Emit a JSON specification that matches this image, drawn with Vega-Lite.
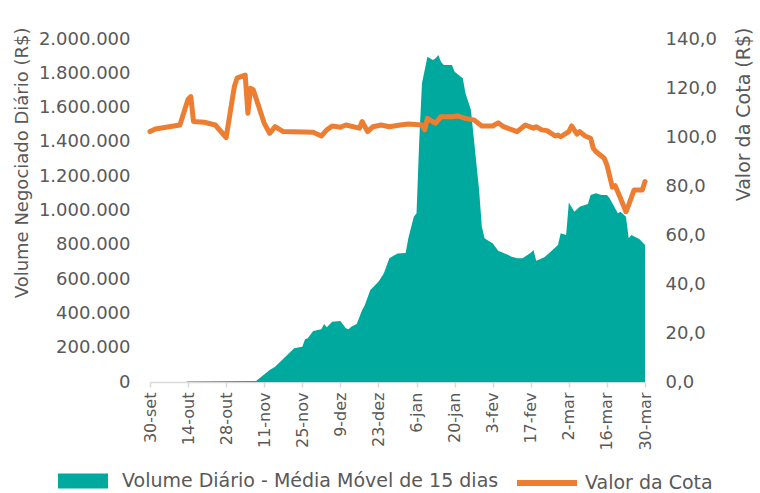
{
  "$schema": "https://vega.github.io/schema/vega-lite/v6.json",
  "autosize": {"type": "none"},
  "width": 495,
  "height": 343,
  "padding": {"left": 150, "top": 39, "right": 115, "bottom": 111},
  "background": "white",
  "datasets": {
    "volume": [
      {"data": "2019-09-30", "volume": 0},
      {"data": "2019-10-13", "volume": 0},
      {"data": "2019-10-14", "volume": 3000},
      {"data": "2019-11-08", "volume": 6000},
      {"data": "2019-11-13", "volume": 70000},
      {"data": "2019-11-15", "volume": 89000},
      {"data": "2019-11-22", "volume": 197000},
      {"data": "2019-11-25", "volume": 206000},
      {"data": "2019-11-26", "volume": 249000},
      {"data": "2019-11-27", "volume": 255000},
      {"data": "2019-11-29", "volume": 297000},
      {"data": "2019-12-02", "volume": 307000},
      {"data": "2019-12-03", "volume": 338000},
      {"data": "2019-12-04", "volume": 319000},
      {"data": "2019-12-06", "volume": 352000},
      {"data": "2019-12-09", "volume": 356000},
      {"data": "2019-12-11", "volume": 313000},
      {"data": "2019-12-12", "volume": 307000},
      {"data": "2019-12-13", "volume": 322000},
      {"data": "2019-12-15", "volume": 338000},
      {"data": "2019-12-17", "volume": 420000},
      {"data": "2019-12-18", "volume": 449000},
      {"data": "2019-12-20", "volume": 536000},
      {"data": "2019-12-23", "volume": 585000},
      {"data": "2019-12-25", "volume": 634000},
      {"data": "2019-12-27", "volume": 721000},
      {"data": "2019-12-30", "volume": 750000},
      {"data": "2020-01-02", "volume": 752000},
      {"data": "2020-01-03", "volume": 840000},
      {"data": "2020-01-05", "volume": 964000},
      {"data": "2020-01-06", "volume": 984000},
      {"data": "2020-01-07", "volume": 1411000},
      {"data": "2020-01-08", "volume": 1742000},
      {"data": "2020-01-10", "volume": 1897000},
      {"data": "2020-01-12", "volume": 1878000},
      {"data": "2020-01-13", "volume": 1888000},
      {"data": "2020-01-14", "volume": 1907000},
      {"data": "2020-01-15", "volume": 1868000},
      {"data": "2020-01-16", "volume": 1848000},
      {"data": "2020-01-19", "volume": 1848000},
      {"data": "2020-01-20", "volume": 1809000},
      {"data": "2020-01-23", "volume": 1771000},
      {"data": "2020-01-24", "volume": 1683000},
      {"data": "2020-01-26", "volume": 1586000},
      {"data": "2020-01-27", "volume": 1430000},
      {"data": "2020-01-29", "volume": 1120000},
      {"data": "2020-01-30", "volume": 906000},
      {"data": "2020-01-31", "volume": 838000},
      {"data": "2020-02-02", "volume": 818000},
      {"data": "2020-02-03", "volume": 809000},
      {"data": "2020-02-05", "volume": 766000},
      {"data": "2020-02-07", "volume": 752000},
      {"data": "2020-02-10", "volume": 731000},
      {"data": "2020-02-12", "volume": 721000},
      {"data": "2020-02-14", "volume": 721000},
      {"data": "2020-02-17", "volume": 754000},
      {"data": "2020-02-18", "volume": 770000},
      {"data": "2020-02-19", "volume": 707000},
      {"data": "2020-02-22", "volume": 727000},
      {"data": "2020-02-25", "volume": 770000},
      {"data": "2020-02-27", "volume": 799000},
      {"data": "2020-02-28", "volume": 867000},
      {"data": "2020-03-01", "volume": 857000},
      {"data": "2020-03-02", "volume": 1046000},
      {"data": "2020-03-04", "volume": 993000},
      {"data": "2020-03-06", "volume": 1022000},
      {"data": "2020-03-09", "volume": 1038000},
      {"data": "2020-03-10", "volume": 1090000},
      {"data": "2020-03-12", "volume": 1100000},
      {"data": "2020-03-14", "volume": 1090000},
      {"data": "2020-03-16", "volume": 1090000},
      {"data": "2020-03-17", "volume": 1071000},
      {"data": "2020-03-18", "volume": 1042000},
      {"data": "2020-03-20", "volume": 984000},
      {"data": "2020-03-21", "volume": 993000},
      {"data": "2020-03-23", "volume": 964000},
      {"data": "2020-03-24", "volume": 838000},
      {"data": "2020-03-25", "volume": 857000},
      {"data": "2020-03-28", "volume": 832000},
      {"data": "2020-03-30", "volume": 799000}
    ],
    "cota": [
      {"data": "2019-09-30", "cota": 102.2},
      {"data": "2019-10-02", "cota": 103.3},
      {"data": "2019-10-11", "cota": 104.9},
      {"data": "2019-10-14", "cota": 115.4},
      {"data": "2019-10-15", "cota": 116.5},
      {"data": "2019-10-16", "cota": 106.3},
      {"data": "2019-10-20", "cota": 106.0},
      {"data": "2019-10-24", "cota": 104.9},
      {"data": "2019-10-28", "cota": 99.8},
      {"data": "2019-10-31", "cota": 120.5},
      {"data": "2019-11-01", "cota": 124.0},
      {"data": "2019-11-04", "cota": 125.3},
      {"data": "2019-11-05", "cota": 109.7},
      {"data": "2019-11-06", "cota": 119.9},
      {"data": "2019-11-07", "cota": 119.2},
      {"data": "2019-11-11", "cota": 105.6},
      {"data": "2019-11-13", "cota": 101.5},
      {"data": "2019-11-15", "cota": 104.2},
      {"data": "2019-11-18", "cota": 102.2},
      {"data": "2019-11-29", "cota": 101.9},
      {"data": "2019-12-02", "cota": 100.4},
      {"data": "2019-12-04", "cota": 102.9},
      {"data": "2019-12-06", "cota": 104.5},
      {"data": "2019-12-09", "cota": 104.0},
      {"data": "2019-12-11", "cota": 104.9},
      {"data": "2019-12-16", "cota": 103.6},
      {"data": "2019-12-17", "cota": 106.3},
      {"data": "2019-12-19", "cota": 102.2},
      {"data": "2019-12-21", "cota": 104.2},
      {"data": "2019-12-24", "cota": 104.9},
      {"data": "2019-12-27", "cota": 104.2},
      {"data": "2019-12-31", "cota": 104.9},
      {"data": "2020-01-03", "cota": 105.3},
      {"data": "2020-01-08", "cota": 104.9},
      {"data": "2020-01-09", "cota": 102.9},
      {"data": "2020-01-10", "cota": 107.6},
      {"data": "2020-01-13", "cota": 105.6},
      {"data": "2020-01-15", "cota": 108.3},
      {"data": "2020-01-19", "cota": 108.3},
      {"data": "2020-01-21", "cota": 108.6},
      {"data": "2020-01-24", "cota": 107.6},
      {"data": "2020-01-27", "cota": 107.0},
      {"data": "2020-01-30", "cota": 104.5},
      {"data": "2020-02-03", "cota": 104.5},
      {"data": "2020-02-05", "cota": 105.8},
      {"data": "2020-02-07", "cota": 104.2},
      {"data": "2020-02-12", "cota": 102.2},
      {"data": "2020-02-15", "cota": 104.9},
      {"data": "2020-02-18", "cota": 103.6},
      {"data": "2020-02-19", "cota": 104.2},
      {"data": "2020-02-21", "cota": 102.9},
      {"data": "2020-02-23", "cota": 102.6},
      {"data": "2020-02-26", "cota": 100.4},
      {"data": "2020-02-27", "cota": 100.8},
      {"data": "2020-02-28", "cota": 100.1},
      {"data": "2020-03-02", "cota": 102.2},
      {"data": "2020-03-03", "cota": 104.5},
      {"data": "2020-03-05", "cota": 101.2},
      {"data": "2020-03-06", "cota": 102.2},
      {"data": "2020-03-08", "cota": 100.4},
      {"data": "2020-03-10", "cota": 99.5},
      {"data": "2020-03-11", "cota": 95.4},
      {"data": "2020-03-12", "cota": 94.0},
      {"data": "2020-03-15", "cota": 91.3},
      {"data": "2020-03-16", "cota": 88.6},
      {"data": "2020-03-18", "cota": 79.5},
      {"data": "2020-03-19", "cota": 80.2},
      {"data": "2020-03-21", "cota": 75.0},
      {"data": "2020-03-23", "cota": 69.5},
      {"data": "2020-03-24", "cota": 72.3},
      {"data": "2020-03-26", "cota": 78.4},
      {"data": "2020-03-29", "cota": 78.4},
      {"data": "2020-03-30", "cota": 81.8}
    ]
  },
  "layer": [
    {
      "data": {"name": "volume"},
      "mark": {"type": "area", "interpolate": "linear"},
      "encoding": {
        "x": {
          "field": "data",
          "type": "temporal",
          "scale": {
            "type": "utc",
            "domain": [1569801600000, 1585526400000],
            "nice": false
          },
          "axis": {
            "title": null,
            "tickCount": 30,
            "values": [1569801600000, 1571011200000, 1572220800000, 1573430400000, 1574640000000, 1575849600000, 1577059200000, 1578268800000, 1579478400000, 1580688000000, 1581897600000, 1583107200000, 1584316800000, 1585526400000],
            "labelExpr": "utcdate(datum.value) + '-' + ['jan','fev','mar','abr','mai','jun','jul','ago','set','out','nov','dez'][utcmonth(datum.value)]",
            "labelAngle": 270,
            "labelAlign": "right",
            "labelBaseline": "middle",
            "labelPadding": 5,
            "labelFontSize": 16,
            "labelColor": "#595959",
            "labelFont": "DejaVu Sans",
            "labelOverlap": false,
            "labelFlush": false,
            "grid": false,
            "domainColor": "#D9D9D9",
            "domainWidth": 1.5,
            "tickColor": "#D9D9D9",
            "tickSize": 5,
            "tickWidth": 1.5
          }
        },
        "y": {
          "field": "volume",
          "type": "quantitative",
          "scale": {"domain": [0, 2000000], "nice": false},
          "axis": {
            "title": "Volume Negociado Diário (R$)",
            "tickCount": 20,
            "values": [0, 200000, 400000, 600000, 800000, 1000000, 1200000, 1400000, 1600000, 1800000, 2000000],
            "format": ",.0f",
            "grid": false,
            "domain": false,
            "ticks": false,
            "labelPadding": 20,
            "labelFontSize": 18,
            "labelColor": "#595959",
            "labelFont": "DejaVu Sans",
            "titleFont": "DejaVu Sans",
            "titleFontSize": 18,
            "titleFontWeight": "normal",
            "titleColor": "#595959",
            "titleAngle": 270,
            "titleAnchor": "end",
            "titleAlign": "right",
            "titleBaseline": "bottom",
            "titleY": -12,
            "titlePadding": 7
          }
        },
        "fill": {
          "datum": "Volume Diário - Média Móvel de 15 dias",
          "type": "nominal",
          "scale": {"range": ["#00A99D"]},
          "legend": {
            "title": null,
            "orient": "none",
            "legendX": -92,
            "legendY": 417,
            "symbolType": "M-1,-0.3L1,-0.3L1,0.3L-1,0.3Z",
            "symbolSize": 2500,
            "symbolStrokeWidth": 0,
            "symbolOpacity": 1,
            "labelFontSize": 19,
            "labelColor": "#595959",
            "labelFont": "DejaVu Sans",
            "labelLimit": 500,
            "labelOffset": 14
          }
        }
      }
    },
    {
      "data": {"name": "cota"},
      "mark": {"type": "line", "strokeWidth": 5, "strokeCap": "round", "strokeJoin": "round"},
      "encoding": {
        "x": {"field": "data", "type": "temporal"},
        "y": {
          "field": "cota",
          "type": "quantitative",
          "scale": {"domain": [0, 140], "nice": false},
          "axis": {
            "orient": "right",
            "title": "Valor da Cota (R$)",
            "tickCount": 20,
            "values": [0, 20, 40, 60, 80, 100, 120, 140],
            "format": ".1f",
            "grid": false,
            "domain": false,
            "ticks": false,
            "labelPadding": 20,
            "labelFontSize": 18,
            "labelColor": "#595959",
            "labelFont": "DejaVu Sans",
            "titleFont": "DejaVu Sans",
            "titleFontSize": 19,
            "titleFontWeight": "normal",
            "titleColor": "#595959",
            "titleAngle": 270,
            "titleAnchor": "end",
            "titleAlign": "right",
            "titleBaseline": "top",
            "titleY": -12,
            "titlePadding": 18
          }
        },
        "stroke": {
          "datum": "Valor da Cota",
          "type": "nominal",
          "scale": {"range": ["#ED7D31"]},
          "legend": {
            "title": null,
            "orient": "none",
            "legendX": 364,
            "legendY": 411,
            "symbolType": "stroke",
            "symbolSize": 3600,
            "symbolStrokeWidth": 6,
            "labelFontSize": 19,
            "labelColor": "#595959",
            "labelFont": "DejaVu Sans",
            "labelLimit": 300,
            "labelOffset": 5
          }
        }
      }
    }
  ],
  "resolve": {"scale": {"y": "independent", "fill": "independent", "stroke": "independent"}},
  "config": {
    "view": {"stroke": null},
    "locale": {
      "number": {"decimal": ",", "thousands": ".", "grouping": [3], "currency": ["R$", ""]}
    }
  }
}
